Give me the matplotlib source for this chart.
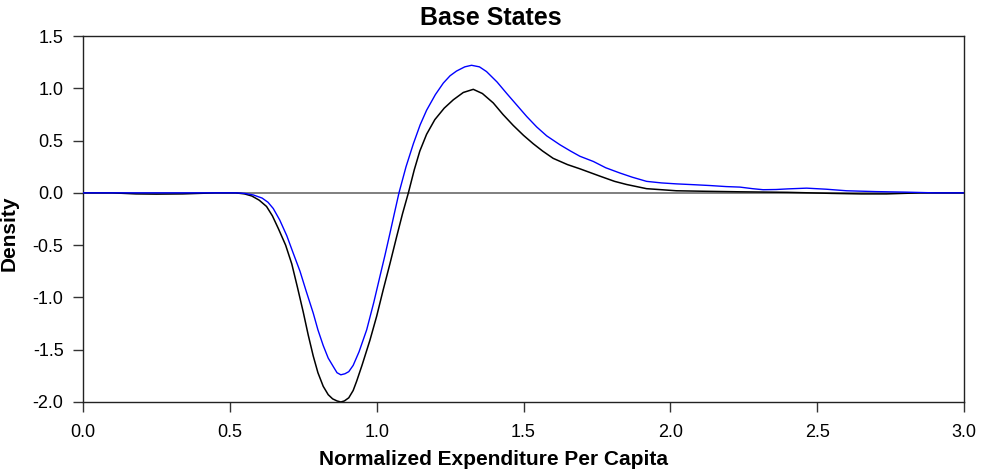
import matplotlib.pyplot as plt

plt.rcParams['font.family'] = ['Liberation Sans', 'DejaVu Sans']

# values
base_x = [0.0, 0.10, 0.18, 0.25, 0.34, 0.45, 0.52, 0.55, 0.575, 0.60, 0.625, 0.645,
          0.665, 0.69, 0.711, 0.73, 0.75, 0.767, 0.784, 0.80, 0.818, 0.835, 0.85,
          0.865, 0.878, 0.89, 0.905, 0.92, 0.932, 0.95, 0.977, 1.0, 1.022, 1.045,
          1.068, 1.088, 1.108, 1.128, 1.147, 1.17, 1.198, 1.23, 1.261, 1.295, 1.329,
          1.36, 1.397, 1.43, 1.465, 1.50, 1.533, 1.565, 1.601, 1.65, 1.692, 1.76,
          1.81, 1.851, 1.919, 1.97, 2.02, 2.12, 2.237, 2.40, 2.55, 2.65, 2.736, 2.85, 3.0]
base_y = [0.0, 0.0, -0.01, -0.012, -0.01, 0.0, 0.0, -0.01, -0.03, -0.07, -0.13, -0.22,
          -0.34, -0.50, -0.68, -0.90, -1.14, -1.36, -1.56, -1.72, -1.85, -1.93, -1.97,
          -1.99, -2.0, -1.99, -1.96, -1.89, -1.80, -1.65, -1.41, -1.18, -0.93, -0.68,
          -0.42, -0.20, 0.0, 0.22, 0.40, 0.56, 0.70, 0.81, 0.89, 0.96, 0.99,
          0.95, 0.86, 0.75, 0.645, 0.55, 0.47, 0.40, 0.33, 0.27, 0.23, 0.16,
          0.11, 0.08, 0.04, 0.03, 0.02, 0.015, 0.01, 0.005, -0.005, -0.01, -0.01, 0.0, 0.0]

blue_x = [0.0, 0.20, 0.40, 0.52, 0.55, 0.58, 0.61, 0.63, 0.648, 0.67, 0.694, 0.715,
          0.739, 0.76, 0.784, 0.80, 0.818, 0.835, 0.852, 0.865, 0.878, 0.892, 0.905,
          0.92, 0.94, 0.966, 0.99, 1.011, 1.028, 1.045, 1.06, 1.076, 1.10, 1.125,
          1.148, 1.170, 1.20, 1.227, 1.25, 1.272, 1.30, 1.323, 1.35, 1.374, 1.41,
          1.443, 1.477, 1.511, 1.545, 1.579, 1.624, 1.66, 1.692, 1.738, 1.78, 1.828,
          1.87, 1.919, 1.97, 2.02, 2.08, 2.135, 2.19, 2.237, 2.28, 2.316, 2.36, 2.40,
          2.464, 2.53, 2.60, 2.70, 2.80, 2.90, 3.0]
blue_y = [0.0, 0.0, 0.0, 0.0, -0.005, -0.02, -0.05, -0.09, -0.15, -0.26, -0.41, -0.57,
          -0.75, -0.94, -1.15, -1.31, -1.46, -1.58, -1.66, -1.72, -1.74, -1.73, -1.71,
          -1.65, -1.52, -1.31, -1.05, -0.80, -0.60, -0.39, -0.20, 0.0, 0.25, 0.47,
          0.65, 0.79, 0.94, 1.05, 1.12, 1.165, 1.205, 1.22, 1.205, 1.16, 1.06,
          0.95, 0.84, 0.73, 0.63, 0.545, 0.46, 0.40, 0.35, 0.30, 0.24, 0.19,
          0.15, 0.11, 0.095, 0.086, 0.078, 0.07, 0.06, 0.055, 0.04, 0.03, 0.032, 0.038,
          0.045, 0.035, 0.02, 0.012, 0.007, 0.0, 0.0]

x_ticks = [0.0, 0.5, 1.0, 1.5, 2.0, 2.5, 3.0]
y_ticks = [-2.0, -1.5, -1.0, -0.5, 0.0, 0.5, 1.0, 1.5]

fig = plt.figure(figsize=(9.82, 4.75), dpi=100)
ax = fig.add_axes([0.0845, 0.1537, 0.8972, 0.7705])

ax.axhline(0, color='#7f7f7f', lw=1.4, zorder=1)
ax.plot(base_x, base_y, color='black', lw=1.1, zorder=2)
ax.plot(blue_x, blue_y, color='#0000ff', lw=1.0, zorder=3)

ax.set_xlim(0, 3)
ax.set_ylim(-2, 1.5)
ax.set_xticks(x_ticks)
ax.set_yticks(y_ticks)
ax.set_xticklabels([f"{v:.1f}" for v in x_ticks])
ax.set_yticklabels([f"{v:.1f}" for v in y_ticks])
ax.tick_params(direction='out', length=7, width=1, color='#333333', labelsize=13)
ax.tick_params(axis='y', pad=7)
ax.tick_params(axis='x', pad=9)
for s in ax.spines.values():
    s.set_linewidth(1)
    s.set_color('#222222')

# title and x label sit centred on the figure, not the axes
fig.text(0.5, 0.962, "Base States", fontsize=18, fontweight='bold',
         ha='center', va='center')
fig.text(0.503, 0.033, "Normalized Expenditure Per Capita", fontsize=15,
         fontweight='bold', ha='center', va='center')
ax.set_ylabel("Density", fontsize=15, fontweight='bold')
ax.yaxis.set_label_coords(-0.073, 0.46)

fig.savefig("out.png", dpi=100)
